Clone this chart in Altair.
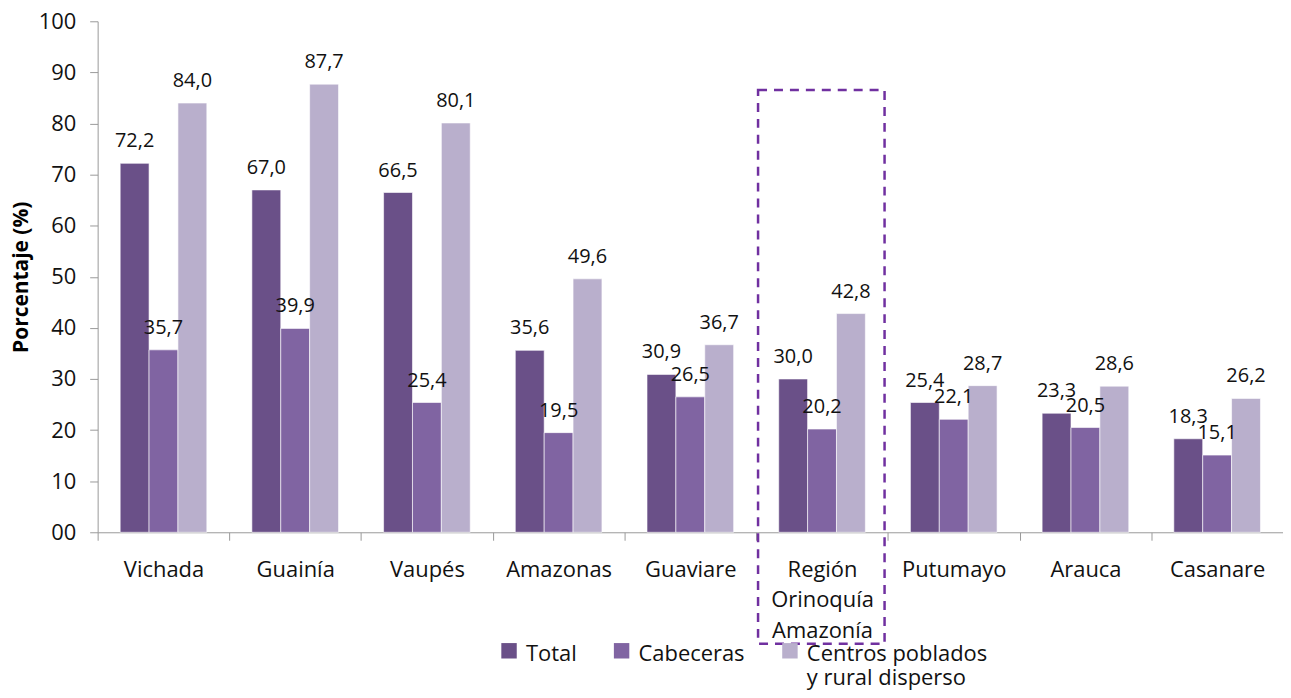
import altair as alt
import pandas as pd

categories = ["Vichada", "Guainía", "Vaupés", "Amazonas", "Guaviare",
              "Región\nOrinoquía\nAmazonía", "Putumayo", "Arauca", "Casanare"]
series = ["Total", "Cabeceras", "Centros poblados\ny rural disperso"]
total = [72.2, 67.0, 66.5, 35.6, 30.9, 30.0, 25.4, 23.3, 18.3]
cabeceras = [35.7, 39.9, 25.4, 19.5, 26.5, 20.2, 22.1, 20.5, 15.1]
centros = [84.0, 87.7, 80.1, 49.6, 36.7, 42.8, 28.7, 28.6, 26.2]
colors = ["#6a5088", "#8064a2", "#b9afcc"]

rows = []
for i, c in enumerate(categories):
    for s, vals in zip(series, [total, cabeceras, centros]):
        rows.append({"cat": c, "serie": s, "valor": vals[i]})
df = pd.DataFrame(rows)

FONT = "Open Sans"
TXT = "#111111"

x = alt.X("cat:N", sort=categories, title=None,
          scale=alt.Scale(paddingInner=0, paddingOuter=0),
          axis=alt.Axis(labelExpr="split(datum.label, '\\n')", labelAngle=0,
                        tickBand="extent", tickSize=8, labelPadding=19,
                        labelFontSize=22, labelColor=TXT, labelFont=FONT,
                        labelLineHeight=31, domainColor="#9a9a9a", tickColor="#9a9a9a",
                        labelBaseline="top"))
xo = alt.XOffset("serie:N", sort=series,
                 scale=alt.Scale(paddingInner=0, paddingOuter=0.78))
y = alt.Y("valor:Q", title="Porcentaje (%)",
          scale=alt.Scale(domain=[0, 100], nice=False),
          axis=alt.Axis(values=list(range(0, 101, 10)),
                        labelExpr="datum.value == 0 ? '00' : datum.label",
                        grid=False, tickSize=8, labelPadding=14,
                        labelFontSize=22, labelColor=TXT, labelFont=FONT,
                        titleFontSize=21, titleFont=FONT, titleFontWeight="bold",
                        titleColor="#000000", titlePadding=7,
                        domainColor="#9a9a9a", tickColor="#9a9a9a"))

legend_label = ("indexof(datum.label, '\\n') >= 0 ? split(datum.label, '\\n') "
                ": [datum.label, ' ']")

color = alt.Color("serie:N", sort=series,
                  scale=alt.Scale(domain=series, range=colors),
                  legend=alt.Legend(title=None, orient="none", direction="horizontal",
                                    legendX=402, legendY=614, columns=3,
                                    labelExpr=legend_label,
                                    labelFontSize=22, labelFont=FONT, labelColor=TXT,
                                    labelLimit=300,
                                    symbolType="M-1,-0.1H1V1.9H-1Z", symbolSize=240,
                                    symbolStrokeWidth=0, columnPadding=34, labelOffset=6,
                                    labelBaseline="top"))

bars = alt.Chart(df).mark_bar(stroke="white", strokeWidth=0.6).encode(
    x=x, xOffset=xo, y=y, color=color)

labels = alt.Chart(df).transform_calculate(
    txt="replace(format(datum.valor, '.1f'), '.', ',')"
).mark_text(baseline="alphabetic", dy=-16, fontSize=20, font=FONT, color=TXT).encode(
    x=alt.X("cat:N", sort=categories), xOffset=xo, y=alt.Y("valor:Q"), text="txt:N")

box = alt.Chart(pd.DataFrame({"a": [0]})).mark_rect(
    fill=None, stroke="#7030a0", strokeWidth=2.5, strokeDash=[9, 7]
).encode(x=alt.value(663), x2=alt.value(790), y=alt.value(69), y2=alt.value(625))

chart = alt.layer(bars, labels, box).properties(
    width=1190, height=513,
    autosize=alt.AutoSizeParams(type="none"),
    padding={"left": 90, "top": 12, "right": 0, "bottom": 157},
).configure_view(stroke=None)

chart.save("out.html", embed_options={"renderer": "svg", "actions": False})
